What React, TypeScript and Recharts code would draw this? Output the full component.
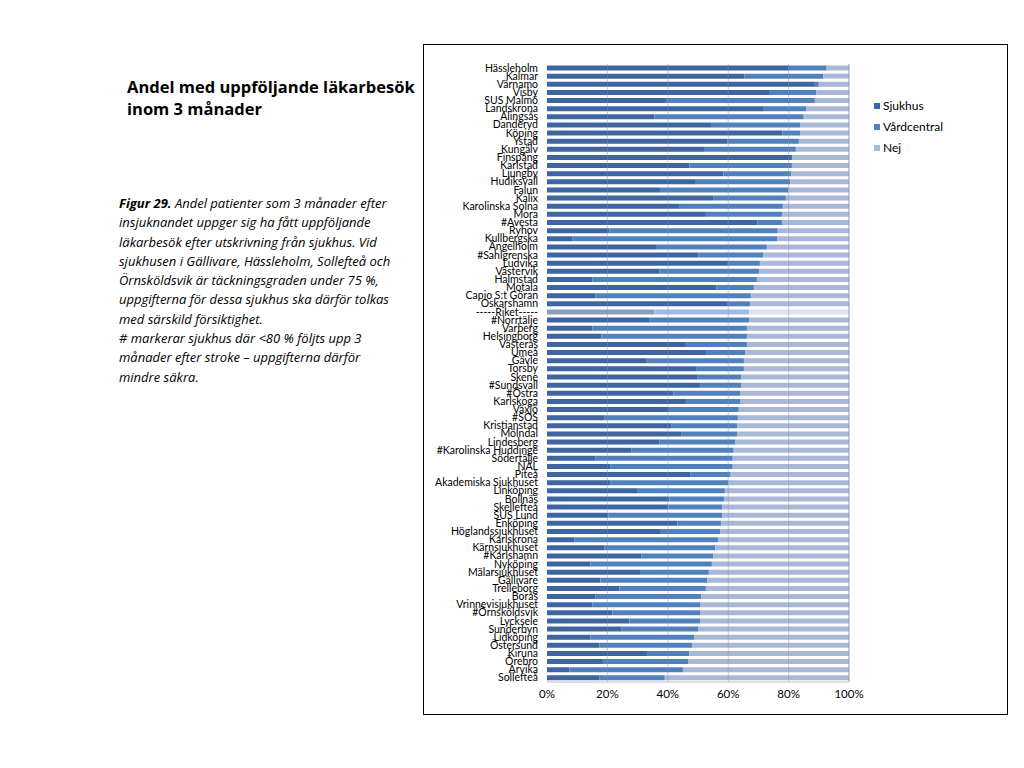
import { JSX } from "react";
import {
  BarChart,
  Bar,
  XAxis,
  YAxis,
  Cell,
  ReferenceLine,
} from "recharts";

const hospitals = [
  "Hässleholm", "Kalmar", "Värnamo", "Visby", "SUS Malmö", "Landskrona",
  "Alingsås", "Danderyd", "Köping", "Ystad", "Kungälv", "Finspång",
  "Karlstad", "Ljungby", "Hudiksvall", "Falun", "Kalix", "Karolinska Solna",
  "Mora", "#Avesta", "Ryhov", "Kullbergska", "Ängelholm", "#Sahlgrenska",
  "Ludvika", "Västervik", "Halmstad", "Motala", "Capio S:t Göran",
  "Oskarshamn", "-----Riket-----", "#Norrtälje", "Varberg", "Helsingborg",
  "Västerås", "Umeå", "Gävle", "Torsby", "Skene", "#Sundsvall", "#Östra",
  "Karlskoga", "Växjö", "#SOS", "Kristianstad", "Mölndal", "Lindesberg",
  "#Karolinska Huddinge", "Södertälje", "NÄL", "Piteå",
  "Akademiska Sjukhuset", "Linköping", "Bollnäs", "Skellefteå", "SUS Lund",
  "Enköping", "Höglandssjukhuset", "Karlskrona", "Kärnsjukhuset",
  "#Karlshamn", "Nyköping", "Mälarsjukhuset", "Gällivare", "Trelleborg",
  "Borås", "Vrinnevisjukhuset", "#Örnsköldsvik", "Lycksele", "Sunderbyn",
  "Lidköping", "Östersund", "Kiruna", "Örebro", "Arvika", "Sollefteå",
];

// share followed up at the hospital (%)
const sjukhus = [
  80.1, 65.3, 88.7, 73.8, 39.4, 71.8, 35.6, 54.3, 77.9, 59.8, 52.0, 81.1,
  47.1, 58.4, 49.3, 37.4, 55.0, 43.7, 52.6, 69.7, 20.7, 8.5, 36.1, 50.1,
  59.9, 37.2, 15.0, 56.1, 16.1, 59.6, 35.6, 33.8, 15.0, 18.0, 46.0, 52.6,
  32.8, 49.6, 49.9, 50.7, 41.9, 46.0, 40.4, 19.1, 41.3, 44.4, 37.2, 27.9,
  16.1, 20.9, 47.4, 20.9, 29.8, 40.5, 40.2, 20.4, 43.2, 37.7, 9.0, 19.1,
  31.2, 14.4, 30.8, 17.7, 24.0, 16.1, 15.1, 21.7, 27.3, 24.7, 14.4, 17.3,
  33.1, 18.5, 7.4, 17.3,
];

// cumulative end of the Vårdcentral segment (%)
const vardEnd = [
  92.6, 91.5, 90.0, 89.2, 88.7, 85.9, 85.0, 83.8, 83.8, 83.4, 82.4, 81.1,
  81.1, 80.9, 80.6, 79.8, 79.1, 78.1, 77.8, 77.8, 76.4, 76.3, 72.8, 71.6,
  70.5, 70.2, 69.5, 68.5, 67.5, 67.2, 66.9, 66.9, 66.2, 66.2, 66.2, 65.6,
  65.2, 65.2, 64.4, 64.4, 64.1, 64.1, 63.5, 63.2, 62.9, 62.9, 62.4, 61.8,
  61.5, 61.5, 60.8, 60.1, 58.9, 58.6, 58.1, 58.1, 57.6, 57.3, 56.6, 55.7,
  55.0, 54.6, 53.6, 53.1, 52.6, 51.1, 50.8, 50.8, 50.7, 50.2, 48.7, 48.0,
  47.1, 46.7, 45.0, 39.0,
];

const xTicks = [0, 20, 40, 60, 80, 100];

const COLORS = { sjukhus: "#3D65A1", vard: "#4F81BD", nej: "#AAB8D7" };
const RIKET_COLORS = { sjukhus: "#8A9DBD", vard: "#9CBCE6", nej: "#DCE4EF" };

const data = hospitals.map((name, i) => ({
  name,
  sjukhus: sjukhus[i],
  vard: +(vardEnd[i] - sjukhus[i]).toFixed(1),
  nej: +(100 - vardEnd[i]).toFixed(1),
}));

const FONT = "Lato, 'Open Sans', sans-serif";

type TickProps = {
  x?: number;
  y?: number;
  payload?: { value: string };
};

// plain text tick, so long names never wrap
function NameTick({ x = 0, y = 0, payload }: TickProps): JSX.Element {
  return (
    <text
      x={x}
      y={y}
      dy={3.5}
      textAnchor="end"
      fontSize={10.5}
      fontFamily={FONT}
      fill="#000"
    >
      {payload?.value}
    </text>
  );
}

function LegendBox(): JSX.Element {
  const items = [
    { label: "Sjukhus", color: COLORS.sjukhus },
    { label: "Vårdcentral", color: COLORS.vard },
    { label: "Nej", color: COLORS.nej },
  ];
  return (
    <div
      style={{
        position: "absolute",
        left: 874,
        top: 95,
        fontFamily: FONT,
        fontSize: 12,
        color: "#000",
      }}
    >
      {items.map((it) => (
        <div
          key={it.label}
          style={{ display: "flex", alignItems: "center", height: 21 }}
        >
          <span
            style={{
              width: 6,
              height: 6,
              background: it.color,
              marginRight: 3,
              display: "inline-block",
            }}
          />
          {it.label}
        </div>
      ))}
    </div>
  );
}

export default function App(): JSX.Element {
  const riketIndex = hospitals.indexOf("-----Riket-----");
  return (
    <div
      style={{
        position: "absolute",
        left: 0,
        top: 0,
        width: 1024,
        height: 768,
        background: "#fff",
        fontFamily: "'Open Sans', sans-serif",
      }}
    >
      <div
        style={{
          position: "absolute",
          left: 127,
          top: 76,
          width: 300,
          fontFamily: "'Open Sans', sans-serif",
          fontWeight: 700,
          fontSize: 16.5,
          lineHeight: "22px",
          color: "#000",
        }}
      >
        Andel med uppföljande läkarbesök
        <br />
        inom 3 månader
      </div>
      <div
        style={{
          position: "absolute",
          left: 119,
          top: 194,
          width: 310,
          fontFamily: "'Open Sans', sans-serif",
          fontStyle: "italic",
          fontSize: 13,
          lineHeight: "19.3px",
          color: "#000",
          whiteSpace: "nowrap",
        }}
      >
        <b>Figur 29.</b> Andel patienter som 3 månader efter
        <br />
        insjuknandet uppger sig ha fått uppföljande
        <br />
        läkarbesök efter utskrivning från sjukhus. Vid
        <br />
        sjukhusen i Gällivare, Hässleholm, Sollefteå och
        <br />
        Örnsköldsvik är täckningsgraden under 75 %,
        <br />
        uppgifterna för dessa sjukhus ska därför tolkas
        <br />
        med särskild försiktighet.
        <br /># markerar sjukhus där &lt;80 % följts upp 3
        <br />
        månader efter stroke – uppgifterna därför
        <br />
        mindre säkra.
      </div>
      <div
        style={{
          position: "absolute",
          left: 423,
          top: 44,
          width: 585,
          height: 671,
          border: "1px solid #000",
          boxSizing: "border-box",
        }}
      >
        <BarChart
          width={583}
          height={669}
          data={data}
          layout="vertical"
          barCategoryGap={1.5}
          margin={{ top: 19, right: 158, bottom: 6, left: 0 }}
        >
          <XAxis
            type="number"
            domain={[0, 100]}
            ticks={xTicks}
            tickFormatter={(v: number) => `${v}%`}
            tick={{ fontSize: 11.5, fill: "#000", fontFamily: FONT }}
            tickLine={false}
            axisLine={{ stroke: "#bfbfbf" }}
            height={26}
          />
          <YAxis
            type="category"
            dataKey="name"
            width={123}
            interval={0}
            tick={<NameTick />}
            tickLine={false}
            axisLine={false}
            tickMargin={3}
          />
          <Bar dataKey="sjukhus" stackId="a" isAnimationActive={false}>
            {data.map((d, i) => (
              <Cell
                key={d.name}
                fill={i === riketIndex ? RIKET_COLORS.sjukhus : COLORS.sjukhus}
              />
            ))}
          </Bar>
          <Bar dataKey="vard" stackId="a" isAnimationActive={false}>
            {data.map((d, i) => (
              <Cell
                key={d.name}
                fill={i === riketIndex ? RIKET_COLORS.vard : COLORS.vard}
              />
            ))}
          </Bar>
          <Bar dataKey="nej" stackId="a" isAnimationActive={false}>
            {data.map((d, i) => (
              <Cell
                key={d.name}
                fill={i === riketIndex ? RIKET_COLORS.nej : COLORS.nej}
              />
            ))}
          </Bar>
          {xTicks.slice(1).map((t) => (
            <ReferenceLine
              key={t}
              x={t}
              stroke={t === 100 ? "#8c9bb5" : "#7f93b8"}
              strokeOpacity={t === 100 ? 1 : 0.45}
              strokeWidth={1}
            />
          ))}
        </BarChart>
      </div>
      <LegendBox />
    </div>
  );
}
